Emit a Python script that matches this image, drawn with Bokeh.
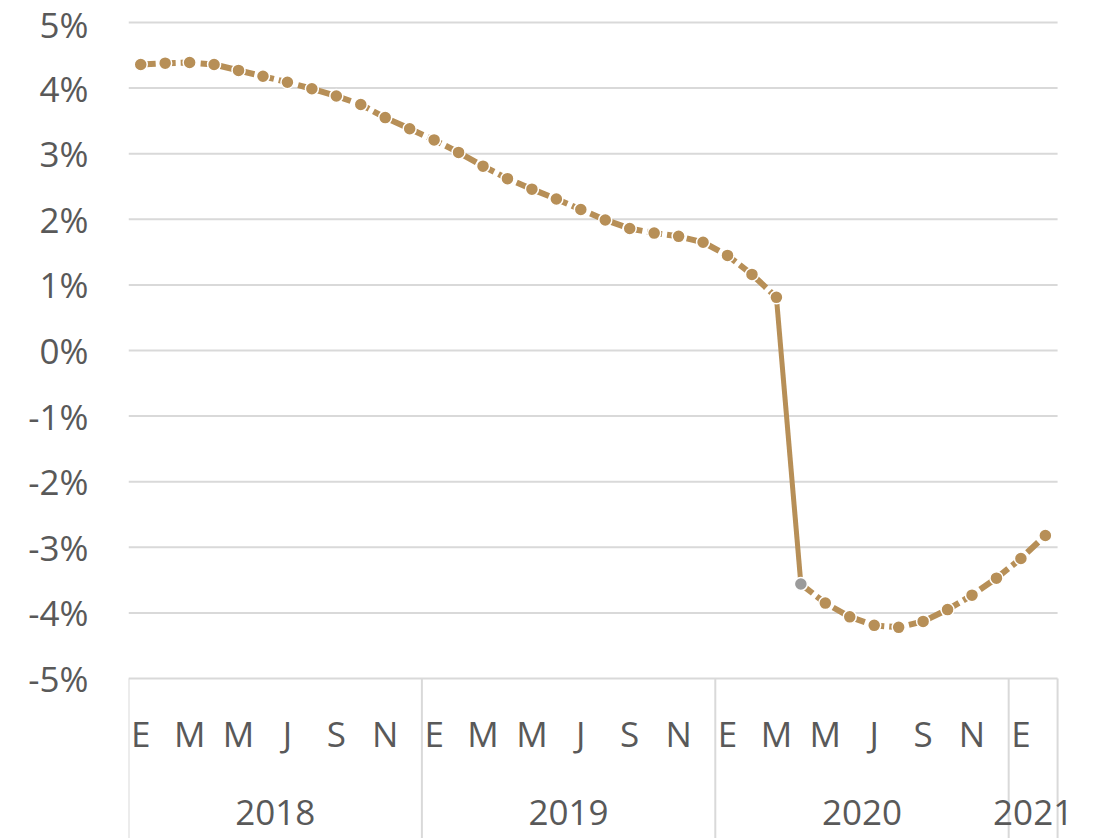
from bokeh.plotting import figure
from bokeh.models import Range1d, FixedTicker, LinearAxis
from bokeh.core.properties import value
from bokeh.embed import file_html
from bokeh.resources import INLINE

# ---------------- data ----------------
years = ["2018", "2019", "2020", "2021"]
months_per_year = [12, 12, 12, 2]
month_initials = ["E", "F", "M", "A", "M", "J", "J", "A", "S", "O", "N", "D"]
values = [4.36, 4.38, 4.39, 4.36, 4.27, 4.18, 4.09, 3.99, 3.88, 3.75, 3.55, 3.38,
          3.21, 3.02, 2.81, 2.62, 2.46, 2.31, 2.15, 1.99, 1.86, 1.79, 1.74, 1.65,
          1.45, 1.16, 0.81, -3.56, -3.85, -4.06, -4.19, -4.22, -4.13, -3.95, -3.73, -3.47,
          -3.17, -2.82]
highlight_index = 27          # abril 2020 (punto gris)
y_ticks = list(range(-5, 6))

# ---------------- styles / layout ----------------
LINE_COLOR = "#B78F57"
GREY_POINT = "#9B9B9B"
GRID_COLOR = "#D9D9D9"
TEXT_COLOR = "#595959"
FONT = "Open Sans"
FONT_SIZE = "35px"
Y_TOP = 5.3354       # top of plotting frame
Y_BOTTOM = -7.439    # bottom of plotting frame (category-axis area lives inside)
X_RIGHT = 39.01      # extra room on the right for the last year label
MONTH_LABEL_Y = -5.84
YEAR_LABEL_Y = -7.04

n = len(values)
x = list(range(n))
y_min = min(y_ticks)

month_ticks = [i for i in x if i % 2 == 0]
month_text = [month_initials[i % 12] for i in month_ticks]

bounds = [-0.5]
for m in months_per_year:
    bounds.append(bounds[-1] + m)
year_centers = [(bounds[k] + bounds[k + 1]) / 2 for k in range(len(years))]

p = figure(width=1094, height=838, output_backend="svg", toolbar_location=None,
           x_range=Range1d(-0.5, X_RIGHT), y_range=Range1d(Y_BOTTOM, Y_TOP),
           min_border_left=128, min_border_right=0, min_border_top=0,
           min_border_bottom=0, x_axis_location=None, y_axis_location=None)
p.outline_line_color = None
p.background_fill_color = "white"
p.border_fill_color = "white"
p.xgrid.grid_line_color = None
p.ygrid.grid_line_color = None

# y axis
yax = LinearAxis(ticker=FixedTicker(ticks=y_ticks, minor_ticks=[]))
yax.major_label_overrides = {v: f"{v}%" for v in y_ticks}
yax.axis_line_color = None
yax.major_tick_line_color = None
yax.major_tick_out = 0
yax.major_tick_in = 0
yax.minor_tick_line_color = None
yax.major_label_standoff = 40
yax.major_label_text_font = FONT
yax.major_label_text_font_size = FONT_SIZE
yax.major_label_text_color = TEXT_COLOR
p.add_layout(yax, "left")

# horizontal gridlines (only across the data span)
p.segment(x0=[-0.5] * len(y_ticks), x1=[n - 0.5] * len(y_ticks), y0=y_ticks, y1=y_ticks,
          line_color=GRID_COLOR, line_width=2)

# category axis: year separators
p.segment(x0=bounds, x1=bounds, y0=[y_min] * len(bounds), y1=[Y_BOTTOM] * len(bounds),
          line_color=GRID_COLOR, line_width=2)

# month and year labels
p.text(x=month_ticks, y=[MONTH_LABEL_Y] * len(month_ticks), text=month_text,
       text_align="center", text_baseline="alphabetic", text_font=value(FONT),
       text_font_size=FONT_SIZE, text_color=TEXT_COLOR)
p.text(x=year_centers, y=[YEAR_LABEL_Y] * len(years), text=years,
       text_align="center", text_baseline="alphabetic", text_font=value(FONT),
       text_font_size=FONT_SIZE, text_color=TEXT_COLOR)

# series
h = highlight_index
p.line(x[:h], values[:h], line_color=LINE_COLOR, line_width=6, line_dash="15 5")
p.line(x[h - 1:h + 1], values[h - 1:h + 1], line_color=LINE_COLOR, line_width=5)
p.line(x[h:], values[h:], line_color=LINE_COLOR, line_width=6, line_dash="15 5")
colors = [GREY_POINT if i == h else LINE_COLOR for i in x]
p.scatter(x, values, size=13, fill_color=colors, line_color="white", line_width=1.5)

open("out.html", "w").write(file_html(p, INLINE))
